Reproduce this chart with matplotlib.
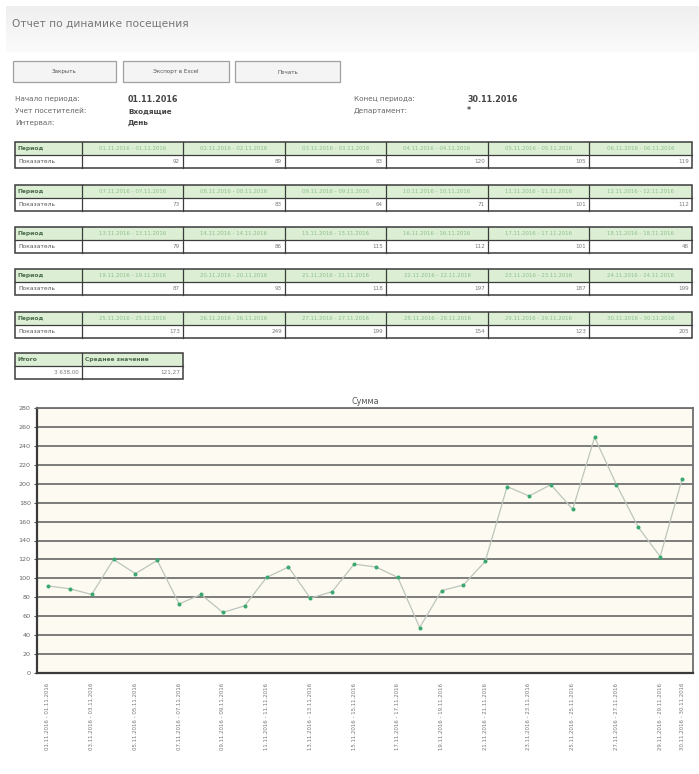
import matplotlib
matplotlib.use("Agg")
import matplotlib.pyplot as plt
from matplotlib.patches import Rectangle
import numpy as np

plt.rcParams['font.family'] = ['DejaVu Sans']

# ---- report data ----
dates = ["01.11.2016", "02.11.2016", "03.11.2016", "04.11.2016", "05.11.2016", "06.11.2016",
         "07.11.2016", "08.11.2016", "09.11.2016", "10.11.2016", "11.11.2016", "12.11.2016",
         "13.11.2016", "14.11.2016", "15.11.2016", "16.11.2016", "17.11.2016", "18.11.2016",
         "19.11.2016", "20.11.2016", "21.11.2016", "22.11.2016", "23.11.2016", "24.11.2016",
         "25.11.2016", "26.11.2016", "27.11.2016", "28.11.2016", "29.11.2016", "30.11.2016"]
visits = [92, 89, 83, 120, 105, 119,
          73, 83, 64, 71, 101, 112,
          79, 86, 115, 112, 101, 48,
          87, 93, 118, 197, 187, 199,
          173, 249, 199, 154, 123, 205]
periods = [f"{d} - {d}" for d in dates]
total_text = "3 638,00"
average_text = "121,27"
y_ticks = list(range(0, 281, 20))

W, H = 699, 774
fig = plt.figure(figsize=(W / 100, H / 100), dpi=100)
fig.patch.set_facecolor("white")

# full-page axes in pixel coordinates
page = fig.add_axes([0, 0, 1, 1])
page.set_xlim(0, W)
page.set_ylim(H, 0)
page.axis("off")

# header band with a soft gradient
grad = np.linspace(0, 1, 60).reshape(-1, 1)
page.imshow(grad, extent=(6, W, 52, 6), cmap=matplotlib.colors.LinearSegmentedColormap.from_list(
    "band", ["#efefef", "#fbfbfb"]), aspect="auto", zorder=0)
page.text(12, 24, "Отчет по динамике посещения", fontsize=7.7, color="#777777",
          va="center", ha="left")

# buttons
buttons = [("Закрыть", 13, 116), ("Экспорт в Excel", 123, 229), ("Печать", 235, 340)]
for label, x0, x1 in buttons:
    page.add_patch(Rectangle((x0, 61), x1 - x0, 21, facecolor="#f4f4f4",
                             edgecolor="#a0a0a0", lw=0.9, zorder=2))
    page.text((x0 + x1) / 2, 72, label, fontsize=4.1, color="#555555",
              ha="center", va="center", zorder=3)

# parameters block
info_left = [("Начало периода:", "01.11.2016", 99), ("Учет посетителей:", "Входящие", 111),
             ("Интервал:", "День", 123)]
for lab, val, y in info_left:
    page.text(15, y, lab, fontsize=5.2, color="#666666", va="center")
    page.text(128, y, val, fontsize=5.8 if val[0].isdigit() else 5.2,
              color="#444444", va="center", weight="bold")
info_right = [("Конец периода:", "30.11.2016", 99), ("Департамент:", "*", 111)]
for lab, val, y in info_right:
    page.text(354, y, lab, fontsize=5.2, color="#666666", va="center")
    page.text(467, y, val, fontsize=5.8, color="#444444", va="center", weight="bold")

# period tables
col_edges = [15, 82, 183, 285, 386, 488, 589, 692]
table_tops = [142, 185, 227, 269, 312]
row_h = 13
head_fill = "#dcefd4"
border = "#3c3c3c"
for t, top in enumerate(table_tops):
    page.add_patch(Rectangle((col_edges[0], top), col_edges[-1] - col_edges[0], row_h,
                             facecolor=head_fill, edgecolor="none", zorder=1))
    page.add_patch(Rectangle((col_edges[0], top), col_edges[-1] - col_edges[0], 2 * row_h,
                             facecolor="none", edgecolor=border, lw=1.1, zorder=3))
    page.plot([col_edges[0], col_edges[-1]], [top + row_h] * 2, color=border, lw=0.9, zorder=3)
    for xe in col_edges[1:-1]:
        page.plot([xe, xe], [top, top + 2 * row_h], color=border, lw=0.9, zorder=3)
    page.text(col_edges[0] + 3, top + row_h / 2, "Период", fontsize=4.3, color="#4b6b4b",
              weight="bold", va="center", zorder=4)
    page.text(col_edges[0] + 3, top + row_h * 1.5, "Показатель", fontsize=4.3, color="#555555",
              va="center", zorder=4)
    for c in range(6):
        i = t * 6 + c
        xa, xb = col_edges[c + 1], col_edges[c + 2]
        page.text((xa + xb) / 2, top + row_h / 2, periods[i], fontsize=3.9, color="#8cbf8c",
                  ha="center", va="center", zorder=4)
        page.text(xb - 3, top + row_h * 1.5, str(visits[i]), fontsize=4.1, color="#7a7a7a",
                  ha="right", va="center", zorder=4)

# totals table
tt = 353
page.add_patch(Rectangle((15, tt), 168, row_h, facecolor=head_fill, edgecolor="none", zorder=1))
page.add_patch(Rectangle((15, tt), 168, 2 * row_h, facecolor="none", edgecolor=border,
                         lw=1.1, zorder=3))
page.plot([15, 183], [tt + row_h] * 2, color=border, lw=0.9, zorder=3)
page.plot([82, 82], [tt, tt + 2 * row_h], color=border, lw=0.9, zorder=3)
page.text(18, tt + row_h / 2, "Итого", fontsize=4.3, color="#4b6b4b", weight="bold",
          va="center", zorder=4)
page.text(85, tt + row_h / 2, "Среднее значение", fontsize=4.3, color="#4b6b4b",
          weight="bold", va="center", zorder=4)
page.text(79, tt + row_h * 1.5, total_text, fontsize=4.1, color="#7a7a7a", ha="right",
          va="center", zorder=4)
page.text(180, tt + row_h * 1.5, average_text, fontsize=4.1, color="#7a7a7a", ha="right",
          va="center", zorder=4)

# ---- chart ----
px_l, px_r, px_t, px_b = 37, 693, 408, 673
ax = fig.add_axes([px_l / W, 1 - px_b / H, (px_r - px_l) / W, (px_b - px_t) / H])
ax.set_facecolor("#fdfbf1")
x = np.arange(len(visits))
ax.plot(x, visits, color="#bcc5bc", lw=0.9, zorder=3)
ax.plot(x, visits, ls="none", marker="o", ms=1.9, color="#3aa870", mec="#3aa870", zorder=4)
ax.set_xlim(-0.5, len(visits) - 0.5)
ax.set_ylim(0, 280)
ax.set_yticks(y_ticks)
ax.set_yticklabels([str(v) for v in y_ticks], fontsize=4.6, color="#666666")
ax.tick_params(axis="y", length=2.5, width=0.8, color="#555555", pad=2)
for v in y_ticks[1:]:
    ax.axhline(v, color="#727272", lw=1.3, zorder=1)
label_idx = list(range(0, 30, 2)) + [29]
ax.set_xticks(label_idx)
ax.set_xticklabels([periods[i] for i in label_idx], rotation=90, fontsize=3.9,
                   color="#777777")
ax.tick_params(axis="x", length=0, pad=7)
for s in ["left", "bottom"]:
    ax.spines[s].set_color("#3a3a3a")
    ax.spines[s].set_linewidth(1.6)
for s in ["right", "top"]:
    ax.spines[s].set_color("#6e6e6e")
    ax.spines[s].set_linewidth(1.3)
ax.set_title("Сумма", fontsize=5.8, color="#555555", pad=3)

fig.savefig("out.png", dpi=100, facecolor="white")
